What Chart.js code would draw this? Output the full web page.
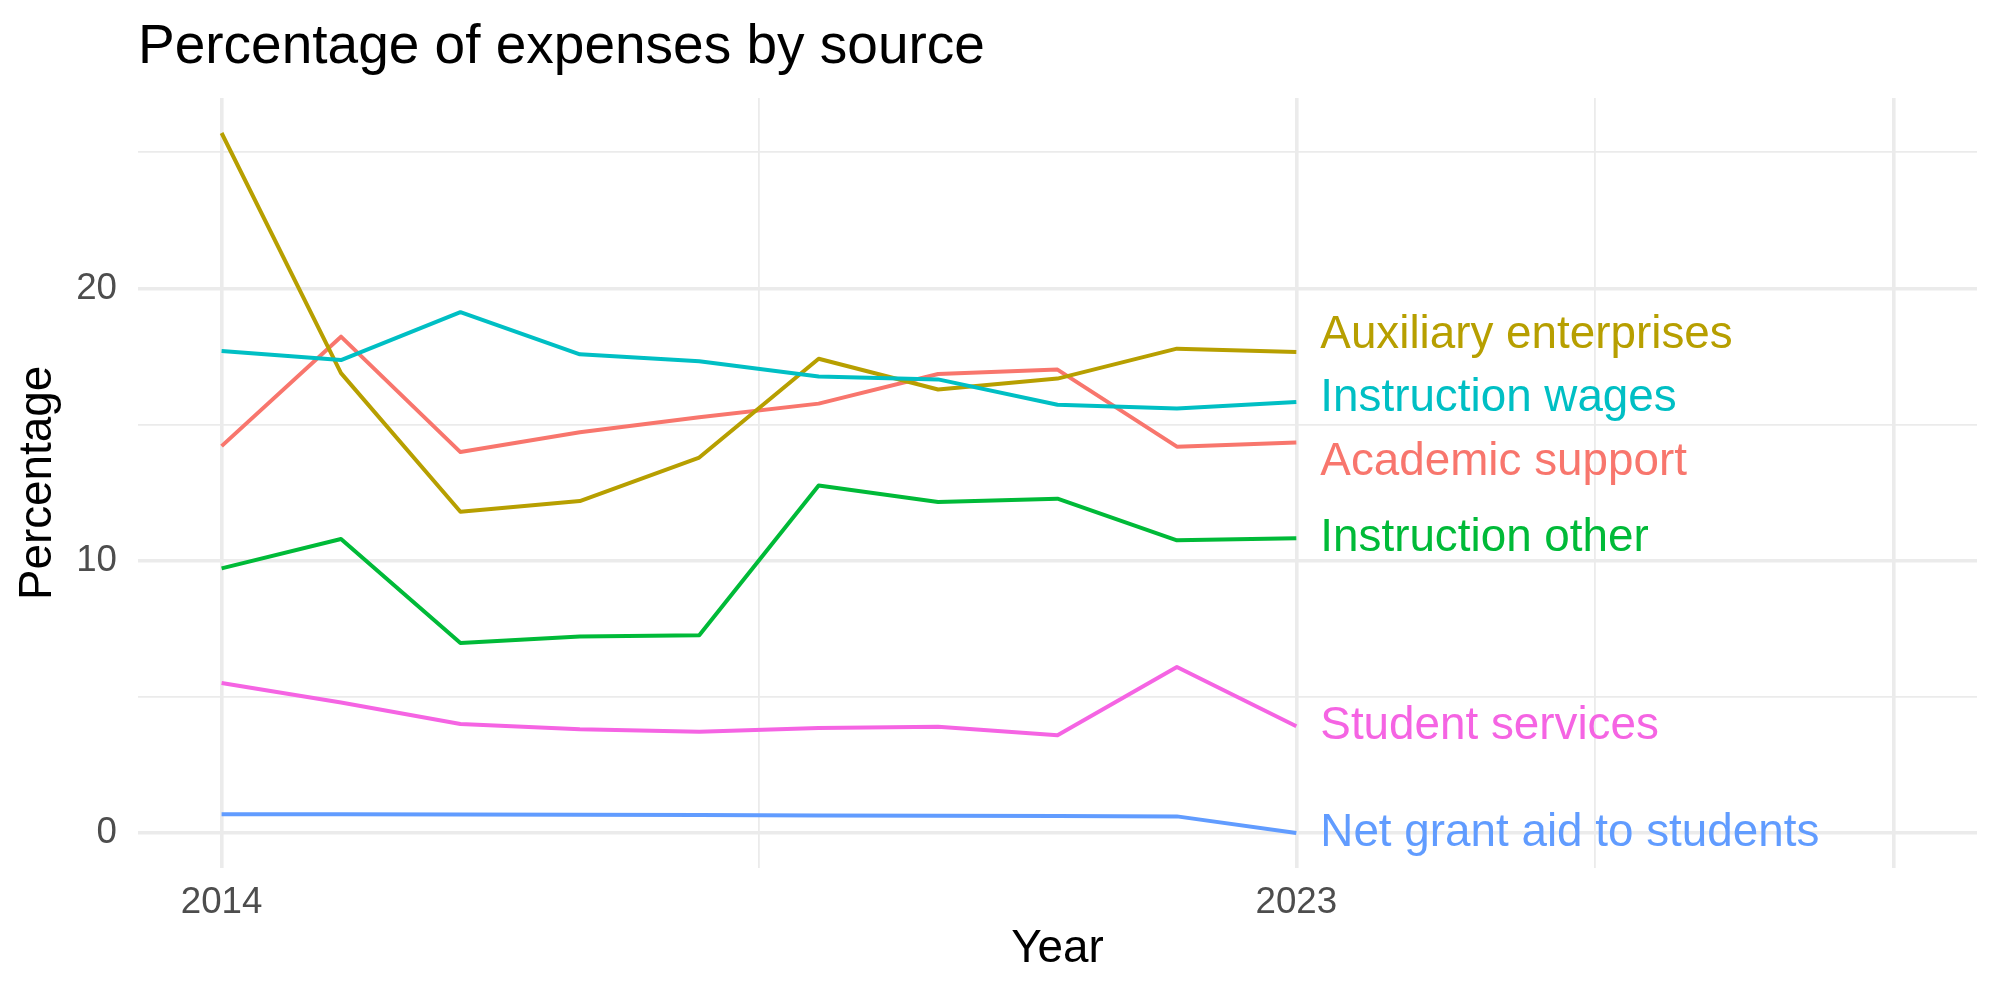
<!DOCTYPE html>
<html>
<head>
<meta charset="utf-8">
<script src="https://cdn.jsdelivr.net/npm/chart.js@4.4.1/dist/chart.umd.min.js"></script>
<style>
  html, body { margin: 0; padding: 0; background: #fff; }
  #wrap { width: 2000px; height: 1000px; }
</style>
</head>
<body>
<div id="wrap"><canvas id="chart" width="2000" height="1000"></canvas></div>
<script>
const titleText = 'Percentage of expenses by source';

const years = [2014, 2015, 2016, 2017, 2018, 2019, 2020, 2021, 2022, 2023];

const seriesNames = [
  'Academic support',
  'Auxiliary enterprises',
  'Instruction other',
  'Instruction wages',
  'Net grant aid to students',
  'Student services'
];

const academicSupport      = [14.21, 18.23, 13.99, 14.72, 15.27, 15.77, 16.86, 17.02, 14.19, 14.34];
const auxiliaryEnterprises = [25.71, 16.89, 11.80, 12.19, 13.79, 17.42, 16.29, 16.69, 17.79, 17.67];
const instructionOther     = [9.72, 10.80, 6.98, 7.22, 7.26, 12.76, 12.16, 12.28, 10.75, 10.83];
const instructionWages     = [17.70, 17.37, 19.13, 17.58, 17.33, 16.77, 16.66, 15.73, 15.59, 15.83];
const netGrantAid          = [0.69, 0.69, 0.68, 0.67, 0.66, 0.64, 0.63, 0.62, 0.61, 0.00];
const studentServices      = [5.51, 4.79, 4.00, 3.81, 3.72, 3.86, 3.90, 3.59, 6.10, 3.92];

const seriesValues = [academicSupport, auxiliaryEnterprises, instructionOther,
                      instructionWages, netGrantAid, studentServices];

const seriesColors = ['#F8766D', '#B79F00', '#00BA38', '#00BFC4', '#619CFF', '#F564E3'];

// x runs out to 2028 to leave room for the labels
const xLimits = [2014, 2028];
const xMajorTicks = [2014, 2023, 2028];
const xMinorTicks = [2018.5, 2025.5];
const xTickLabels = ['2014', '2023', ''];

const yMajorTicks = [0, 10, 20];
const yMinorTicks = [5, 15, 25];
const yTickLabels = ['0', '10', '20'];

const FONT = '"Liberation Sans", Arial, Helvetica, sans-serif';
Chart.defaults.font.family = FONT;

// ggplot style 5% expansion
const allVals = seriesValues.flat();
const yLo = Math.min(...allVals), yHi = Math.max(...allVals);
const yPad = (yHi - yLo) * 0.05;
const xPad = (xLimits[1] - xLimits[0]) * 0.05;

const gridWidth = (majors) => (c) => majors.includes(c.tick && c.tick.value) ? 3.6 : 1.8;

const plotTitle = {
  id: 'plotTitle',
  afterDraw(chart) {
    const ctx = chart.ctx;
    ctx.save();
    ctx.font = `55px ${FONT}`;
    ctx.fillStyle = '#000';
    ctx.textAlign = 'left';
    ctx.textBaseline = 'alphabetic';
    ctx.fillText(titleText, chart.chartArea.left, 63);
    ctx.restore();
  }
};

// end-of-line labels, pushed apart a bit like ggrepel
const endLabels = {
  id: 'endLabels',
  afterDatasetsDraw(chart) {
    const {ctx, scales: {x, y}} = chart;
    const last = years.length - 1;
    const lx = x.getPixelForValue(years[last]) + 24;
    const items = seriesNames.map((name, i) => ({
      name, color: seriesColors[i], py: y.getPixelForValue(seriesValues[i][last])
    }));
    items.sort((a, b) => a.py - b.py);
    const gap = 63.5;
    for (let it = 0; it < 500; it++) {
      let moved = false;
      for (let k = 0; k < items.length - 1; k++) {
        const d = items[k + 1].py - items[k].py;
        if (d < gap - 0.01) {
          const m = (gap - d) / 2;
          items[k].py -= m;
          items[k + 1].py += m;
          moved = true;
        }
      }
      if (!moved) break;
    }
    ctx.save();
    ctx.font = `45.8px ${FONT}`;
    ctx.textAlign = 'left';
    ctx.textBaseline = 'middle';
    items.forEach(d => {
      ctx.fillStyle = d.color;
      ctx.fillText(d.name, lx, d.py);
    });
    ctx.restore();
  }
};

const datasets = seriesNames.map((name, i) => ({
  label: name,
  data: years.map((yr, j) => ({x: yr, y: seriesValues[i][j]})),
  borderColor: seriesColors[i],
  backgroundColor: seriesColors[i],
  borderWidth: 4,
  borderJoinStyle: 'round',
  pointRadius: 0,
  tension: 0,
  fill: false,
  order: seriesNames.length - i
}));

new Chart(document.getElementById('chart'), {
  type: 'line',
  data: {datasets},
  plugins: [plotTitle, endLabels],
  options: {
    responsive: false,
    animation: false,
    devicePixelRatio: 1,
    layout: {padding: {top: 98, right: 23, bottom: 0, left: 0}},
    plugins: {legend: {display: false}, tooltip: {enabled: false}, title: {display: false}},
    scales: {
      x: {
        type: 'linear',
        min: xLimits[0] - xPad,
        max: xLimits[1] + xPad,
        afterBuildTicks: s => {
          s.ticks = [...xMajorTicks, ...xMinorTicks].sort((a, b) => a - b).map(v => ({value: v}));
        },
        afterFit: s => { s.height = 132; },
        ticks: {
          autoSkip: false, maxRotation: 0, minRotation: 0, padding: 13,
          color: '#4D4D4D', font: {size: 36.7},
          callback: v => { const k = xMajorTicks.indexOf(v); return k >= 0 ? xTickLabels[k] : ''; }
        },
        grid: {color: '#EBEBEB', lineWidth: gridWidth(xMajorTicks), drawTicks: false},
        border: {display: false},
        title: {display: true, text: 'Year', color: '#000', font: {size: 45.8}, padding: {top: 0, bottom: 23}}
      },
      y: {
        min: yLo - yPad,
        max: yHi + yPad,
        afterBuildTicks: s => {
          s.ticks = [...yMajorTicks, ...yMinorTicks].sort((a, b) => a - b).map(v => ({value: v}));
        },
        afterFit: s => { s.width = 138; },
        ticks: {
          padding: 21, color: '#4D4D4D', font: {size: 36.7},
          callback: v => { const k = yMajorTicks.indexOf(v); return k >= 0 ? yTickLabels[k] : ''; }
        },
        grid: {color: '#EBEBEB', lineWidth: gridWidth(yMajorTicks), drawTicks: false},
        border: {display: false},
        title: {display: true, text: 'Percentage', color: '#000', font: {size: 45.8}, padding: {top: 11, bottom: 0}}
      }
    }
  }
});
</script>
</body>
</html>
